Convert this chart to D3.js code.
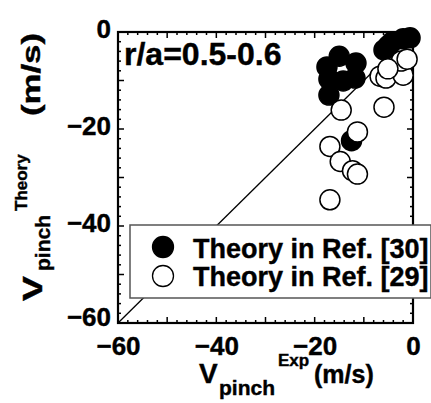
<!DOCTYPE html>
<html>
<head>
<meta charset="utf-8">
<script src="https://cdn.jsdelivr.net/npm/d3@7"></script>
<style>
  body { margin: 0; background: #fff; }
  text { font-family: "Liberation Sans", Arial, sans-serif; font-weight: bold; fill: #000; stroke: #000; stroke-width: 0.4px; }
</style>
</head>
<body>
<svg id="chart" width="431" height="403"></svg>
<script>
// Theory in Ref. [30] (filled)
var ref30X = [-15.0, -17.5, -11.6, -11.8, -14.2, -17.1, -17.1, -12.5, -5.9, -4.3, -2.0, -0.6, -5.1];
var ref30Y = [-5.0, -7.2, -6.4, -9.5, -10.1, -9.7, -13.0, -22.4, -3.7, -2.1, -1.4, -1.2, -2.9];
// Theory in Ref. [29] (open)
var ref29X = [-14.6, -11.3, -16.9, -14.8, -12.3, -11.3, -16.9, -5.9, -6.7, -5.5, -2.0, -2.4, -1.2, -5.1];
var ref29Y = [-16.1, -20.6, -23.6, -26.7, -28.6, -29.3, -34.6, -15.5, -9.1, -9.5, -8.9, -6.0, -5.6, -7.6];

var tickLabels = [-60, -40, -20, 0];
var legendLabels = ["Theory in Ref. [30]", "Theory in Ref. [29]"];

var svg = d3.select("#chart");
var x = d3.scaleLinear().domain([-60, 0]).range([118, 413]);
var y = d3.scaleLinear().domain([0, -60]).range([32, 323]);
var fmt = function(d) { return d < 0 ? "\u2212" + Math.abs(d) : "" + d; };

// diagonal y = x
svg.append("line")
    .attr("x1", x(-60)).attr("y1", y(-60))
    .attr("x2", x(0)).attr("y2", y(0))
    .attr("stroke", "#000").attr("stroke-width", 1.3);

// ticks on all four sides, pointing in
var minor = d3.range(-60, 0.1, 2);
function tickLen(v) { return v % 10 === 0 ? 6 : 3; }
var tg = svg.append("g").attr("stroke", "#000").attr("stroke-width", 1.5);
minor.forEach(function(v) {
    tg.append("line").attr("x1", x(v)).attr("x2", x(v)).attr("y1", y(-60)).attr("y2", y(-60) - tickLen(v));
    tg.append("line").attr("x1", x(v)).attr("x2", x(v)).attr("y1", y(0)).attr("y2", y(0) + tickLen(v));
    tg.append("line").attr("y1", y(v)).attr("y2", y(v)).attr("x1", x(-60)).attr("x2", x(-60) + tickLen(v));
    tg.append("line").attr("y1", y(v)).attr("y2", y(v)).attr("x1", x(0)).attr("x2", x(0) - tickLen(v));
});

// frame
svg.append("rect")
    .attr("x", x(-60)).attr("y", y(0))
    .attr("width", x(0) - x(-60)).attr("height", y(-60) - y(0))
    .attr("fill", "none").attr("stroke", "#000").attr("stroke-width", 2.2);

// tick labels via d3 axes
var xAxis = svg.append("g")
    .attr("transform", "translate(0," + y(-60) + ")")
    .call(d3.axisBottom(x).tickValues(tickLabels).tickFormat(fmt).tickSize(0));
xAxis.select(".domain").remove();
xAxis.selectAll("text").attr("y", 32).attr("dy", null)
    .style("font-size", "26px").style("font-family", "Liberation Sans, Arial, sans-serif").style("font-weight", "bold");

var yAxis = svg.append("g")
    .attr("transform", "translate(" + x(-60) + ",0)")
    .call(d3.axisLeft(y).tickValues(tickLabels).tickFormat(fmt).tickSize(0));
yAxis.select(".domain").remove();
yAxis.selectAll("text").attr("x", -7).attr("dy", null)
    .attr("y", function(d) { return d === -60 ? 2 : 5; })
    .style("font-size", "26px").style("font-family", "Liberation Sans, Arial, sans-serif").style("font-weight", "bold");

// points
var ref30 = ref30X.map(function(v, i) { return [v, ref30Y[i]]; });
var ref29 = ref29X.map(function(v, i) { return [v, ref29Y[i]]; });
svg.append("g").selectAll("circle").data(ref30).enter().append("circle")
    .attr("cx", function(d) { return x(d[0]); })
    .attr("cy", function(d) { return y(d[1]); })
    .attr("r", 10).attr("fill", "#000").attr("stroke", "#000").attr("stroke-width", 1.5);
svg.append("g").selectAll("circle").data(ref29).enter().append("circle")
    .attr("cx", function(d) { return x(d[0]); })
    .attr("cy", function(d) { return y(d[1]); })
    .attr("r", 10).attr("fill", "#fff").attr("stroke", "#000").attr("stroke-width", 1.5);

// annotation
svg.append("text").attr("x", 124).attr("y", 65).style("font-size", "32px").text("r/a=0.5-0.6");

// legend
var lg = svg.append("g");
lg.append("rect").attr("x", 130).attr("y", 225).attr("width", 301).attr("height", 73)
    .attr("fill", "#fff").attr("stroke", "#555").attr("stroke-width", 1.5);
lg.selectAll("circle").data(legendLabels).enter().append("circle")
    .attr("cx", 163).attr("cy", function(d, i) { return 247 + i * 29; })
    .attr("r", 10.5)
    .attr("fill", function(d, i) { return i === 0 ? "#000" : "#fff"; })
    .attr("stroke", "#000").attr("stroke-width", 1.3);
lg.selectAll("text").data(legendLabels).enter().append("text")
    .attr("x", 193).attr("y", function(d, i) { return 258 + i * 28; })
    .style("font-size", "27px").text(function(d) { return d; });

// x title
var xt = svg.append("g");
xt.append("text").attr("x", 199).attr("y", 383).style("font-size", "28px").text("V");
xt.append("text").attr("x", 219).attr("y", 395).style("font-size", "21px").text("pinch");
xt.append("text").attr("x", 278).attr("y", 366).style("font-size", "17px").text("Exp");
xt.append("text").attr("x", 314).attr("y", 383).style("font-size", "25px").text("(m/s)");

// y title pieces: rotated, each stretched to the length it takes in the figure
function yPiece(str, startY, baseX, size, len) {
    var t = svg.append("text").style("font-size", size + "px").text(str);
    var w = t.node().getComputedTextLength();
    var sx = len ? len / w : 1;
    t.attr("transform", "translate(" + baseX + "," + startY + ") rotate(-90) scale(" + sx + ",1)");
}
yPiece("V", 301, 42, 28, 25);
yPiece("pinch", 271, 50, 21, 0);
yPiece("Theory", 211, 27, 17, 0);
yPiece("(m/s)", 116, 40, 26, 83);
</script>
</body>
</html>
